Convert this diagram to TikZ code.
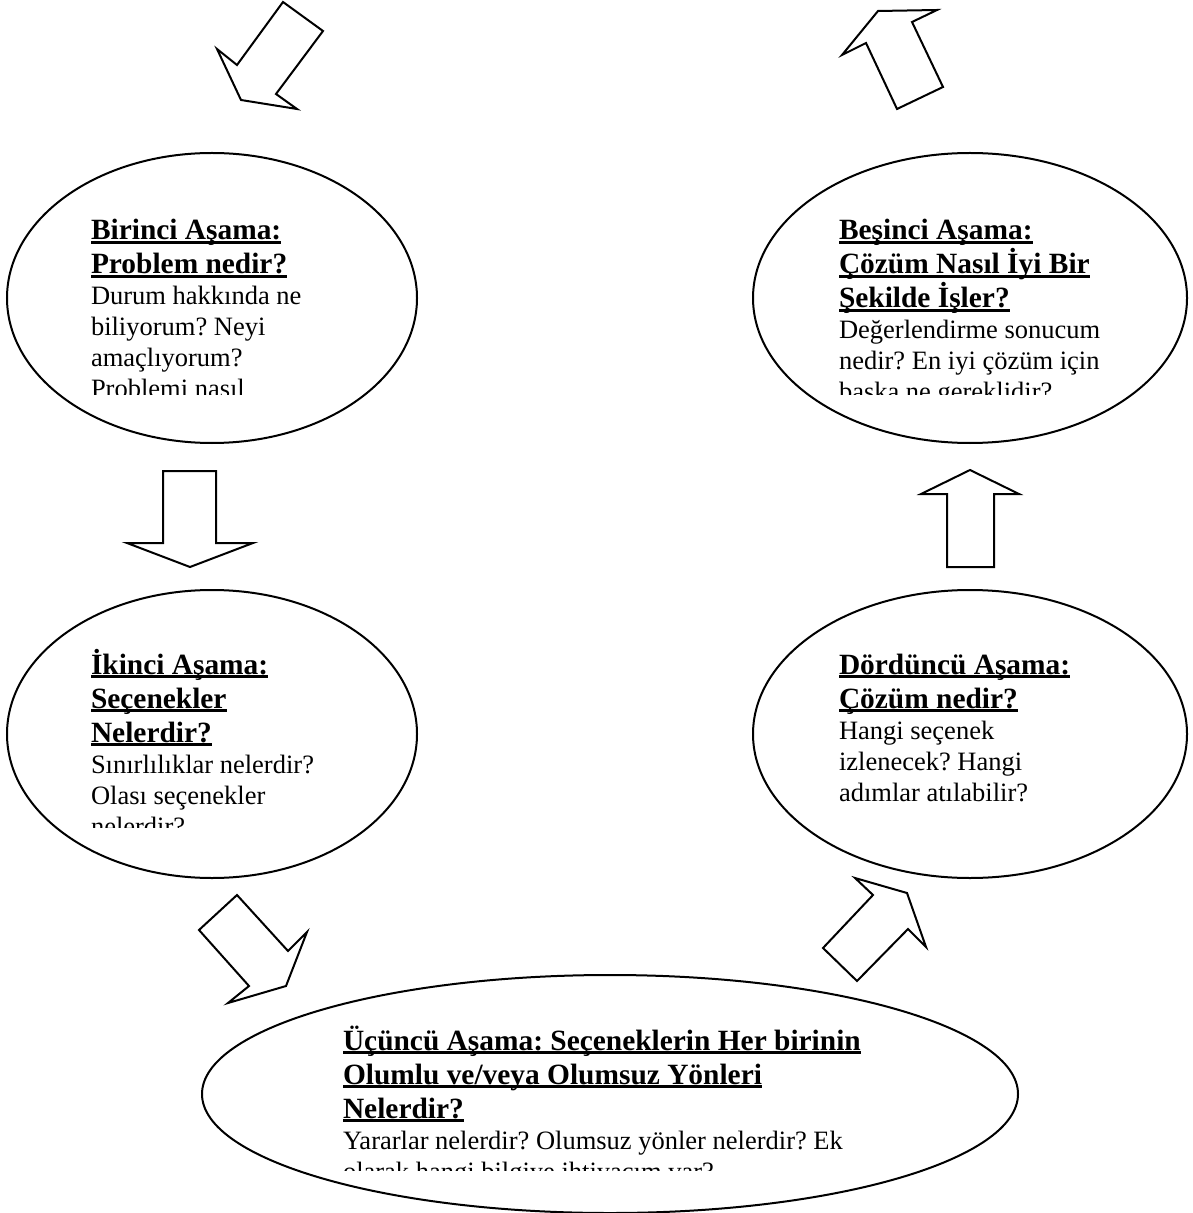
\documentclass[tikz,border=0pt]{standalone}
\usepackage{fontspec}
\setmainfont{Liberation Serif}
\usetikzlibrary{shapes.geometric}
\frenchspacing
\newcommand\hul[1]{\leavevmode\setbox0\hbox{#1}\rlap{\rule[-2.2pt]{\wd0}{1.5pt}}\box0}
\newcommand\hdfont{\fontsize{14.7}{17}\selectfont\bfseries}
\newcommand\bdfont{\par\fontsize{13.25}{15.5}\selectfont\mdseries}
\newcommand\stagetext[1]{\begin{minipage}[t]{330pt}\frenchspacing\hdfont #1\end{minipage}}
\begin{document}
\begin{tikzpicture}[x=0.5pt,y=-0.5pt,line width=1pt,
  stage/.style={ellipse,draw,fill=white,inner sep=0pt},
  blockarrow/.style={draw,fill=white,line join=miter},
  txt/.style={anchor=base west,inner sep=0pt}]
\useasboundingbox (0,0) rectangle (1192,1213);

% stages (ellipses)
\node[stage,minimum width=205pt,minimum height=145pt] (e1) at (212,298) {};
\node[stage,minimum width=217pt,minimum height=145pt] (e5) at (970,298) {};
\node[stage,minimum width=205pt,minimum height=144pt] (e2) at (212,734) {};
\node[stage,minimum width=217pt,minimum height=144pt] (e4) at (970,734) {};
\node[stage,minimum width=408pt,minimum height=119pt] (e3) at (610,1094) {};

% block arrows
\draw[blockarrow] (283,2) -- (323,31) -- (276,94) -- (297,109) -- (241,100) -- (217,49) -- (237,65) -- cycle;
\draw[blockarrow] (878,11) -- (937,10) -- (912,22) -- (943,87) -- (897,109) -- (866,43) -- (842,55) -- cycle;
\draw[blockarrow] (163,471) -- (216,471) -- (216,543) -- (253,543) -- (190,567) -- (127,543) -- (163,543) -- cycle;
\draw[blockarrow] (970,470) -- (1019,494) -- (994,494) -- (994,567) -- (947,567) -- (947,494) -- (921,494) -- cycle;
\draw[blockarrow] (237,895) -- (288,951) -- (307,932) -- (286,986) -- (228,1003) -- (249,986) -- (199,930) -- cycle;
\draw[blockarrow] (855,878) -- (907,893) -- (926,947) -- (908,929) -- (857,981) -- (823,948) -- (873,895) -- cycle;

% texts
\begin{scope}
\clip (80,190) rectangle (440,395);
\node[txt] (t1) at (90,240) {\stagetext{\hul{Birinci Aşama:}\\\hul{Problem nedir?}\bdfont Durum hakkında ne\\biliyorum? Neyi\\amaçlıyorum?\\Problemi nasıl}};
\end{scope}
\begin{scope}
\clip (830,190) rectangle (1192,395);
\node[txt] (t5) at (838,240) {\stagetext{\hul{Beşinci Aşama:}\\\hul{Çözüm Nasıl İyi Bir}\\\hul{Şekilde İşler?}\bdfont Değerlendirme sonucum\\nedir? En iyi çözüm için\\başka ne gereklidir?}};
\end{scope}
\begin{scope}
\clip (80,630) rectangle (440,827);
\node[txt] (t2) at (90,674) {\stagetext{\hul{İkinci Aşama:}\\\hul{Seçenekler}\\\hul{Nelerdir?}\bdfont Sınırlılıklar nelerdir?\\Olası seçenekler\\nelerdir?}};
\end{scope}
\node[txt] (t4) at (838,674) {\stagetext{\hul{Dördüncü Aşama:}\\\hul{Çözüm nedir?}\bdfont Hangi seçenek\\izlenecek? Hangi\\adımlar atılabilir?}};
\begin{scope}
\clip (330,1000) rectangle (900,1170);
\node[txt] (t3) at (342,1050) {\stagetext{\hul{Üçüncü Aşama: Seçeneklerin Her birinin}\\\hul{Olumlu ve/veya Olumsuz Yönleri}\\\hul{Nelerdir?}\bdfont Yararlar nelerdir? Olumsuz yönler nelerdir? Ek\\olarak hangi bilgiye ihtiyacım var?}};
\end{scope}
\end{tikzpicture}
\end{document}
